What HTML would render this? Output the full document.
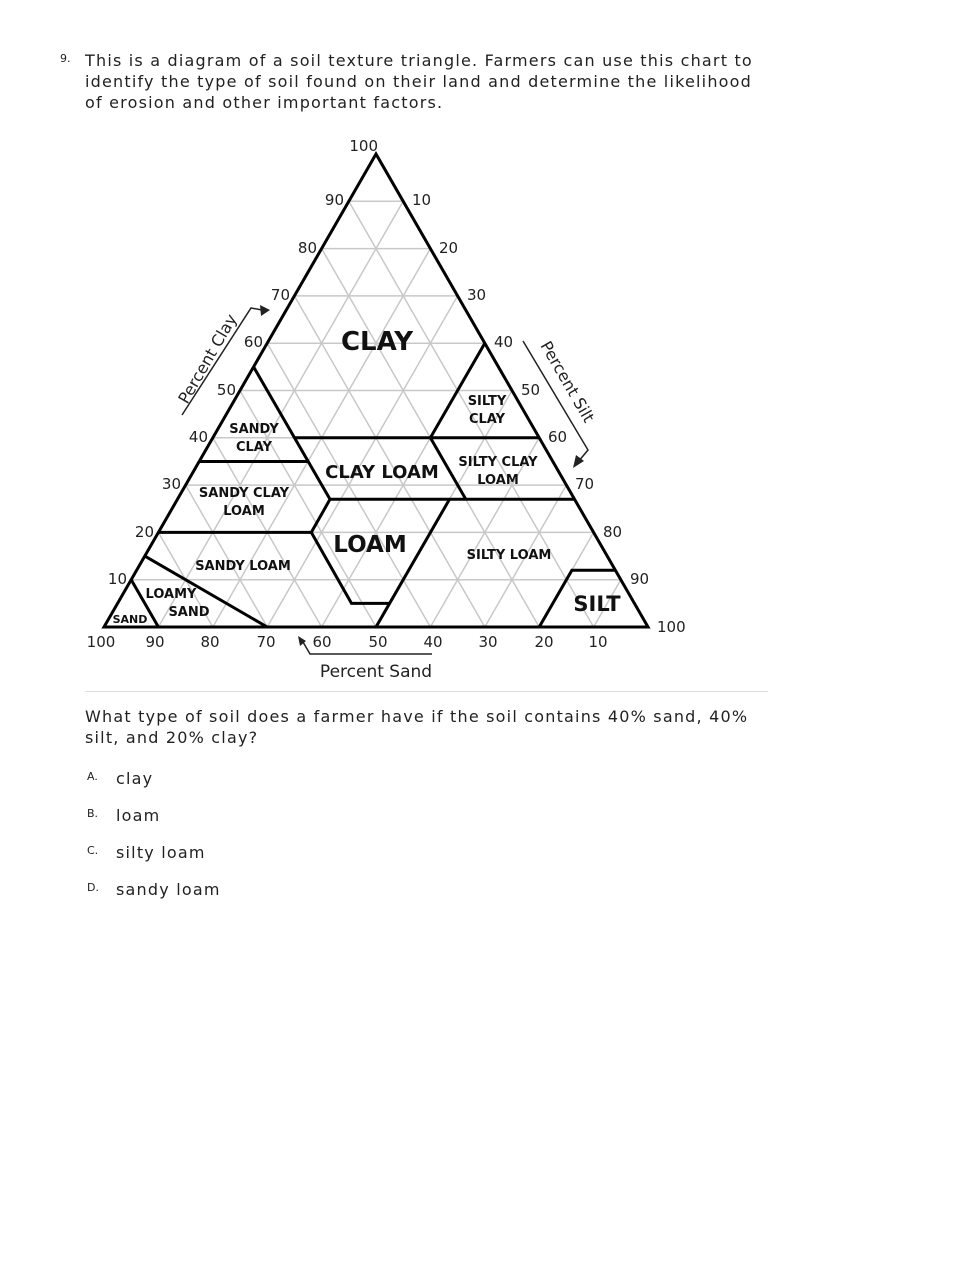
<!DOCTYPE html>
<html><head><meta charset="utf-8"><style>
body{margin:0;background:#fff;width:979px;height:1266px;position:relative;font-family:"DejaVu Sans","Liberation Sans",sans-serif;color:#222;}
.t{position:absolute;font-size:16px;line-height:21px;letter-spacing:1.2px;white-space:nowrap;}
.n{position:absolute;font-size:11px;}
</style></head><body>
<div class="n" style="left:60px;top:52px;">9.</div>
<div class="t" style="left:85px;top:50px;">This is a diagram of a soil texture triangle. Farmers can use this chart to<br>identify the type of soil found on their land and determine the likelihood<br>of erosion and other important factors.</div>
<svg style="position:absolute;left:0;top:0" width="979" height="700" viewBox="0 0 979 700" font-family="DejaVu Sans, Liberation Sans, sans-serif">
<g stroke="#c8c8c8" stroke-width="1.5">
<line x1="131.2" y1="579.7" x2="620.8" y2="579.7"/><line x1="158.4" y1="532.4" x2="593.6" y2="532.4"/><line x1="185.6" y1="485.1" x2="566.4" y2="485.1"/><line x1="212.8" y1="437.8" x2="539.2" y2="437.8"/><line x1="240" y1="390.5" x2="512" y2="390.5"/><line x1="267.2" y1="343.2" x2="484.8" y2="343.2"/><line x1="294.4" y1="295.9" x2="457.6" y2="295.9"/><line x1="321.6" y1="248.6" x2="430.4" y2="248.6"/><line x1="348.8" y1="201.3" x2="403.2" y2="201.3"/>
<line x1="593.6" y1="627" x2="348.8" y2="201.3"/><line x1="539.2" y1="627" x2="321.6" y2="248.6"/><line x1="484.8" y1="627" x2="294.4" y2="295.9"/><line x1="430.4" y1="627" x2="267.2" y2="343.2"/><line x1="376" y1="627" x2="240" y2="390.5"/><line x1="321.6" y1="627" x2="212.8" y2="437.8"/><line x1="267.2" y1="627" x2="185.6" y2="485.1"/><line x1="212.8" y1="627" x2="158.4" y2="532.4"/><line x1="158.4" y1="627" x2="131.2" y2="579.7"/>
<line x1="158.4" y1="627" x2="403.2" y2="201.3"/><line x1="212.8" y1="627" x2="430.4" y2="248.6"/><line x1="267.2" y1="627" x2="457.6" y2="295.9"/><line x1="321.6" y1="627" x2="484.8" y2="343.2"/><line x1="376" y1="627" x2="512" y2="390.5"/><line x1="430.4" y1="627" x2="539.2" y2="437.8"/><line x1="484.8" y1="627" x2="566.4" y2="485.1"/><line x1="539.2" y1="627" x2="593.6" y2="532.4"/><line x1="593.6" y1="627" x2="620.8" y2="579.7"/>
</g>
<g stroke="#000" stroke-width="3" fill="none" stroke-linejoin="miter">
<polygon points="104,627 648,627 376,154"/>
<polyline points="253.6,366.9 330,499.3 311.3,532.4 351.5,603.4 389.6,603.4"/>
<line x1="294.4" y1="437.8" x2="539.2" y2="437.8"/>
<polyline points="484.8,343.2 430.4,437.8 465.8,499.3"/>
<line x1="330" y1="499.3" x2="574.6" y2="499.3"/>
<line x1="449.5" y1="499.3" x2="376" y2="627"/>
<line x1="199.2" y1="461.5" x2="308" y2="461.5"/>
<line x1="158.4" y1="532.4" x2="311.3" y2="532.4"/>
<line x1="144.8" y1="556.1" x2="267.2" y2="627"/>
<line x1="131.2" y1="579.7" x2="158.4" y2="627"/>
<polyline points="539.2,627 571.9,570.2 615.4,570.2"/>
</g>
<g font-size="15" fill="#222" text-anchor="end">
<text x="378" y="151">100</text>
<text x="344" y="205">90</text><text x="317" y="253">80</text><text x="290" y="300">70</text><text x="263" y="347">60</text><text x="236" y="395">50</text><text x="208" y="442">40</text><text x="181" y="489">30</text><text x="154" y="537">20</text><text x="127" y="584">10</text>
</g>
<g font-size="15" fill="#222">
<text x="412" y="205">10</text><text x="439" y="253">20</text><text x="467" y="300">30</text><text x="494" y="347">40</text><text x="521" y="395">50</text><text x="548" y="442">60</text><text x="575" y="489">70</text><text x="603" y="537">80</text><text x="630" y="584">90</text><text x="657" y="632">100</text>
</g>
<g font-size="15" fill="#222" text-anchor="middle">
<text x="101" y="647">100</text><text x="155" y="647">90</text><text x="210" y="647">80</text><text x="266" y="647">70</text><text x="322" y="647">60</text><text x="378" y="647">50</text><text x="433" y="647">40</text><text x="488" y="647">30</text><text x="544" y="647">20</text><text x="598" y="647">10</text>
<text x="376" y="677" font-size="17">Percent Sand</text>
<text transform="translate(208,359) rotate(-60)" y="5" font-size="16">Percent Clay</text>
<text transform="translate(567,382) rotate(60)" y="5" font-size="16">Percent Silt</text>
</g>
<g stroke="#222" stroke-width="1.5" fill="none">
<polyline points="432,654 310,654 303,642"/>
<polyline points="182,415 251,308 262,310"/>
<polyline points="523,341 588,450 578,462"/>
</g>
<g fill="#222">
<polygon points="298,636 306,641 300,646"/>
<polygon points="270,310 260,305 261,316"/>
<polygon points="573,468 584,461 576,455"/>
</g>
<g font-weight="bold" fill="#111" text-anchor="middle" font-size="13">
<text x="377" y="350" font-size="26">CLAY</text>
<text x="254" y="433">SANDY</text><text x="254" y="451">CLAY</text>
<text x="382" y="478" font-size="18">CLAY LOAM</text>
<text x="487" y="405">SILTY</text><text x="487" y="423">CLAY</text>
<text x="498" y="466">SILTY CLAY</text><text x="498" y="484">LOAM</text>
<text x="244" y="497">SANDY CLAY</text><text x="244" y="515">LOAM</text>
<text x="370" y="552" font-size="23">LOAM</text>
<text x="509" y="559">SILTY LOAM</text>
<text x="243" y="570">SANDY LOAM</text>
<text x="171" y="598">LOAMY</text><text x="189" y="616">SAND</text>
<text x="130" y="623" font-size="11">SAND</text>
<text x="597" y="611" font-size="21">SILT</text>
</g>
</svg>
<div style="position:absolute;left:85px;top:691px;width:683px;height:1px;background:#ddd;"></div>
<div class="t" style="left:85px;top:706px;">What type of soil does a farmer have if the soil contains 40% sand, 40%<br>silt, and 20% clay?</div>
<div class="n" style="left:87px;top:770px;">A.</div><div class="t" style="left:116px;top:768px;">clay</div>
<div class="n" style="left:87px;top:807px;">B.</div><div class="t" style="left:116px;top:805px;">loam</div>
<div class="n" style="left:87px;top:844px;">C.</div><div class="t" style="left:116px;top:842px;">silty loam</div>
<div class="n" style="left:87px;top:881px;">D.</div><div class="t" style="left:116px;top:879px;">sandy loam</div>
</body></html>
